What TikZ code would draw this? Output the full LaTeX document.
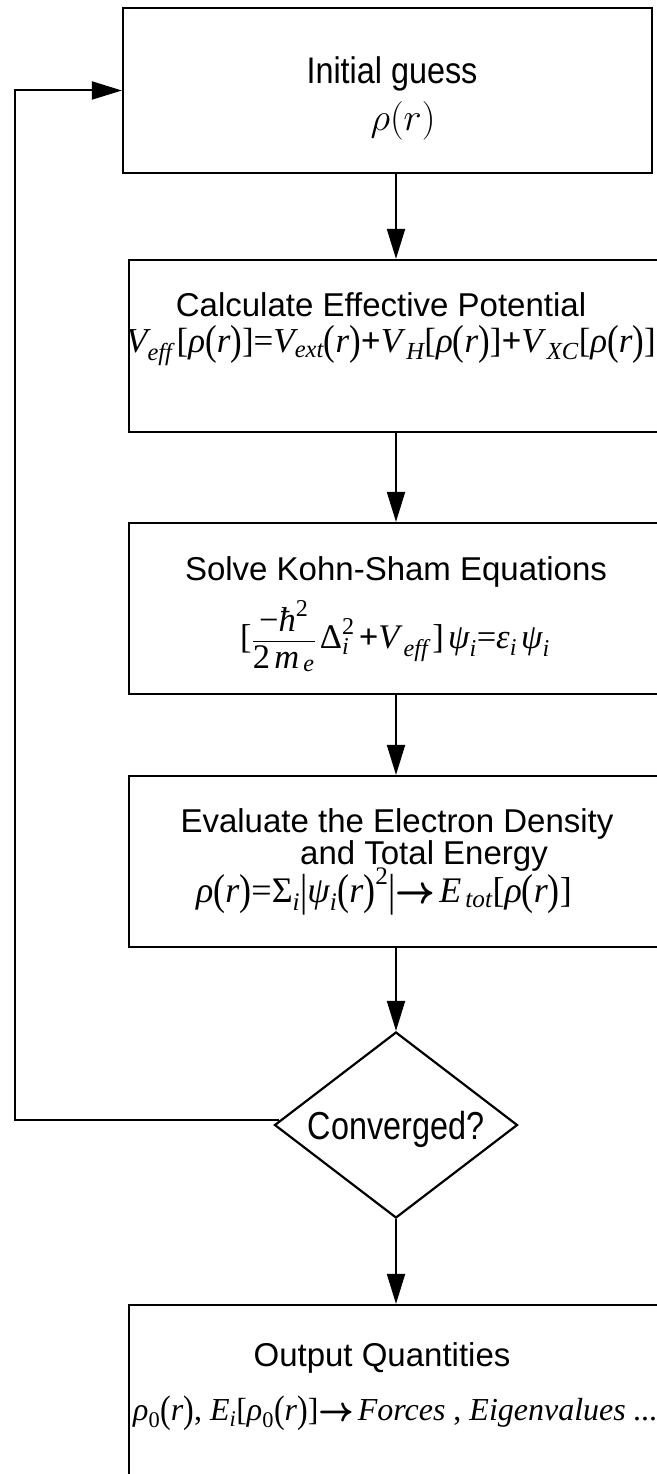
\documentclass[tikz,border=0pt]{standalone}
\usepackage{fontspec}
\usepackage{amsmath}
\usepackage{graphicx}
\setmainfont{Liberation Sans}
\newfontfamily\sr{Liberation Serif}
\usetikzlibrary{shapes.geometric,arrows.meta,calc}
\newcommand\mI[1]{\text{\sr\itshape #1}}
\newcommand\mR[1]{\text{\sr #1}}
\newcommand\mPlus{\text{\sr\bfseries +}}
\newcommand\mArr{\text{\sffamily\bfseries →}}
\newcommand\Lpar{\text{\sr\raisebox{-0.08em}{\scalebox{1}[1.2]{(}}}}
\newcommand\Rpar{\text{\sr\raisebox{-0.08em}{\scalebox{1}[1.2]{)}}}}
\newcommand\myBar{\text{\sr\raisebox{-0.1em}{\scalebox{1}[1.25]{|}}}}
\tikzset{
  box/.style={draw, line width=2.2pt, inner sep=0pt},
  ttl/.style={font=\fontsize{33}{39}\selectfont, anchor=base, inner sep=0pt},
  eq/.style={font=\fontsize{32}{38}\selectfont, anchor=base, inner sep=0pt},
  arr/.style={line width=2pt, -{Triangle[length=30pt,width=18pt]}},
}
\begin{document}
\begin{tikzpicture}[x=1pt,y=-1pt]
\useasboundingbox (0,0) rectangle (656,1474);
% boxes
\node[box, minimum width=529pt, minimum height=165pt] (b1) at (387.5,90.5) {};
\node[box, minimum width=571pt, minimum height=172pt] (b2) at (414.5,346) {};
\node[box, minimum width=571pt, minimum height=171pt] (b3) at (414.5,608.5) {};
\node[box, minimum width=571pt, minimum height=171pt] (b4) at (414.5,861.5) {};
\node[box, diamond, minimum width=243pt, minimum height=186pt, aspect=1.3] (d) at (396,1125) {};
\node[box, minimum width=571pt, minimum height=255pt] (b5) at (414.5,1432.5) {};
% texts
\node[ttl, font=\fontsize{37}{42}\selectfont] (t1) at (392,84) {\scalebox{0.875}[1]{Initial guess}};
\node[eq] (e1) at (403,131) {\scalebox{1.55}{$\rho(r)$}};
\node[ttl] (t2) at (381,316) {Calculate Effective Potential};
\begin{scope}
\clip ($(b2.north west)+(1.2,0)$) rectangle (b2.south east);
\node[eq, font=\fontsize{35}{40}\selectfont] (e2) at (391,352) {$\mI{V}_{\mI{eff}}\,\mR{[}\mI{ρ}\Lpar\mI{r}\Rpar\mR{]}\mR{=}\mI{V}_{\mI{ext}}\Lpar\mI{r}\Rpar\mPlus\mI{V}_{\,\mI{H}}\mR{[}\mI{ρ}\Lpar\mI{r}\Rpar\mR{]}\mPlus\mI{V}_{\,\mI{XC}}\mR{[}\mI{ρ}\Lpar\mI{r}\Rpar\mR{]}$};
\end{scope}
\node[ttl] (t3) at (396,580) {Solve Kohn-Sham Equations};
\node[eq, font=\fontsize{34.5}{40}\selectfont] (e3) at (395,648) {$\mR{[}\dfrac{\mR{−}\mI{ħ}^{\mR{2}}}{\mR{2}\,\mI{m}_{\,\mI{e}}}\,\mR{Δ}_{\mI{i}}^{\mR{2}}\,\mPlus\mI{V}_{\,\mI{eff}}\,\mR{]}\,\mI{ψ}_{\mI{i}}\mR{=}\mI{ε}_{\mI{i}}\,\mI{ψ}_{\mI{i}}$};
\node[ttl] (t4a) at (397,832) {Evaluate the Electron Density};
\node[ttl] (t4b) at (424,864) {and Total Energy};
\node[eq, font=\fontsize{36}{41}\selectfont] (e4) at (384,902) {$\mI{ρ}\Lpar\mI{r}\Rpar\mR{=}\mR{Σ}_{\mI{i}}\myBar\mI{ψ}_{\mI{i}}\Lpar\mI{r}\Rpar^{\mR{2}}\myBar\mArr\,\mI{E}_{\,\mI{tot}}\mR{[}\mI{ρ}\Lpar\mI{r}\Rpar\mR{]}$};
\node[ttl, font=\fontsize{39}{44}\selectfont] (t5) at (396,1139) {\scalebox{0.83}[1]{Converged?}};
\node[ttl] (t6) at (382,1366) {Output Quantities};
\node[eq, anchor=base west] (e6) at (133,1420) {$\mI{ρ}_{\mR{0}}\Lpar\mI{r}\Rpar\mR{, }\mI{E}_{\mI{i}}\mR{[}\mI{ρ}_{\mR{0}}\Lpar\mI{r}\Rpar\mR{]}\mArr\,\mI{Forces}\mR{ , }\mI{Eigenvalues}\mI{ ....}$};
% connectors
\coordinate (lp) at (15,1120);
\draw[arr] (b1.south -| d.north) -- (b2.north -| d.north);
\draw[arr] (b2.south -| d.north) -- (b3.north -| d.north);
\draw[arr] (b3.south -| d.north) -- (b4.north -| d.north);
\draw[arr] (b4.south -| d.north) -- (d.north);
\draw[arr] (d.south) -- (b5.north -| d.south);
\draw[arr] ($(d.west)+(6,-5)$) -- (lp) |- (b1.west);
\end{tikzpicture}
\end{document}
